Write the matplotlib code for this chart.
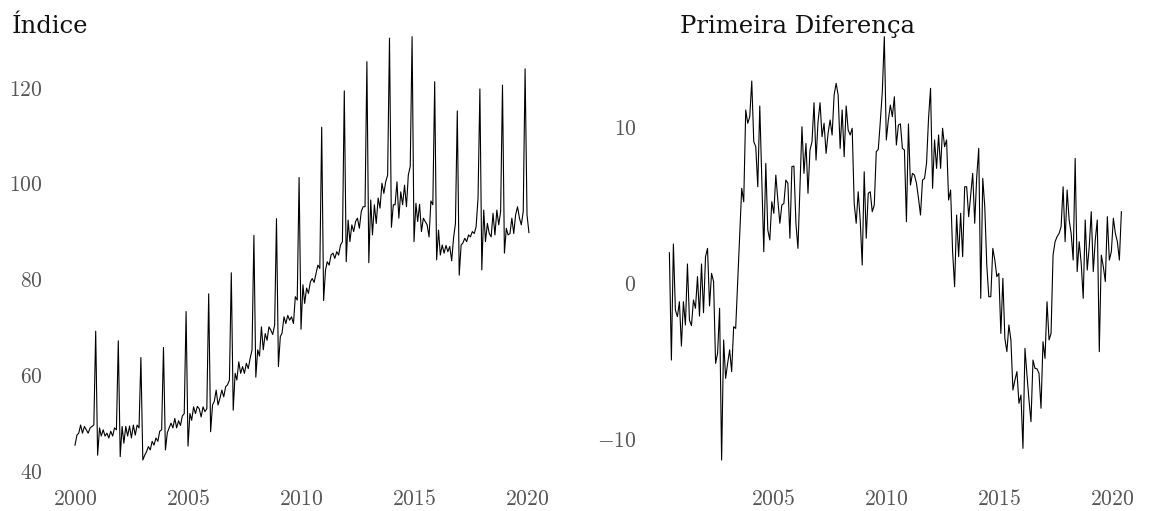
import numpy as np
import pandas as pd
import matplotlib
matplotlib.use("Agg")
import matplotlib.pyplot as plt

# ---- data -------------------------------------------------------------
# Monthly index, Jan 2000 - Feb 2020 (December peaks every year)
indice_2000 = [45.4, 47.5, 47.9, 49.6, 47.9, 49.3, 48.6, 47.9, 49.0, 49.3, 49.6, 69.2]
indice_2001 = [43.3, 49.0, 47.3, 48.6, 47.3, 47.9, 46.9, 48.3, 47.3, 49.0, 48.6, 67.2]
indice_2002 = [43.0, 49.3, 45.8, 49.3, 47.3, 49.4, 46.9, 49.6, 47.5, 49.6, 49.0, 63.7]
indice_2003 = [42.3, 43.3, 44.0, 45.1, 44.4, 46.2, 45.4, 46.9, 46.2, 48.3, 48.6, 65.8]
indice_2004 = [44.4, 48.0, 49.0, 50.0, 49.0, 51.0, 49.0, 50.5, 49.5, 51.5, 52.0, 73.3]
indice_2005 = [45.2, 52.0, 50.6, 53.4, 52.0, 53.5, 53.0, 51.3, 53.4, 52.4, 53.0, 77.0]
indice_2006 = [48.2, 53.8, 54.5, 56.9, 53.8, 55.2, 56.9, 55.5, 57.6, 58.0, 59.0, 81.4]
indice_2007 = [52.7, 60.4, 59.0, 62.8, 60.4, 61.8, 60.4, 62.5, 61.4, 63.5, 65.3, 89.2]
indice_2008 = [59.6, 65.3, 64.0, 70.1, 65.3, 68.7, 67.3, 70.1, 69.4, 68.5, 70.5, 92.7]
indice_2009 = [61.8, 68.1, 68.8, 72.2, 70.8, 72.5, 71.5, 72.2, 70.8, 76.4, 75.7, 101.3]
indice_2010 = [69.6, 78.9, 75.0, 78.2, 77.1, 79.5, 80.2, 79.4, 81.3, 83.0, 82.3, 111.8]
indice_2011 = [75.6, 82.0, 83.7, 83.0, 85.1, 85.5, 84.4, 85.8, 85.1, 87.2, 87.9, 119.4]
indice_2012 = [83.7, 92.4, 87.9, 91.4, 90.0, 92.1, 92.8, 90.7, 94.2, 95.2, 95.2, 125.5]
indice_2013 = [83.5, 96.6, 89.3, 95.6, 91.7, 97.0, 94.9, 100.1, 98.0, 100.4, 101.8, 130.4]
indice_2014 = [90.9, 95.6, 95.6, 100.4, 92.8, 98.3, 95.6, 99.7, 95.2, 101.8, 103.6, 130.7]
indice_2015 = [87.9, 95.9, 92.1, 95.7, 90.0, 92.8, 92.1, 91.4, 88.9, 96.4, 95.6, 121.3]
indice_2016 = [84.1, 90.3, 85.1, 87.2, 85.5, 87.1, 85.8, 86.9, 83.9, 88.6, 91.7, 115.2]
indice_2017 = [80.9, 87.2, 87.6, 88.6, 87.9, 89.3, 88.9, 90.0, 89.6, 91.0, 97.0, 119.8]
indice_2018 = [82.0, 94.5, 87.9, 91.7, 89.6, 88.9, 93.8, 89.3, 94.5, 91.4, 94.2, 120.6]
indice_2019 = [85.5, 90.7, 89.3, 89.6, 92.8, 89.6, 93.5, 95.2, 92.8, 91.4, 94.2, 124.0]
indice_2020 = [93.5, 89.8]

indice = (indice_2000 + indice_2001 + indice_2002 + indice_2003 + indice_2004 +
          indice_2005 + indice_2006 + indice_2007 + indice_2008 + indice_2009 +
          indice_2010 + indice_2011 + indice_2012 + indice_2013 + indice_2014 +
          indice_2015 + indice_2016 + indice_2017 + indice_2018 + indice_2019 +
          indice_2020)
indice_start = "2000-01-01"

# First difference series
diff_a = [1.94, -4.94, 2.5, -1.73, -2.16, -1.2, -4.04, -1.2, -2.69, 1.22, -2.37, -2.73,
          -1.09, -1.62, 0.41, -2.12, 1.22, -1.9, 1.69, 2.22, -1.47, 0.62, 0.09, -5.15,
          -4.51, -1.62, -11.35, -3.65, -6.11, -5.15, -4.29, -5.68, -2.8, -2.91, 0.09,
          3.08, 6.07, 5.21, 11.09, 10.24, 10.66, 12.95, 9.06, 8.74, 6.17, 11.35, 6.8,
          2.0, 7.67]
diff_b = [3.4, 2.76, 5.21, 4.47, 6.92, 5.32, 3.83, 5.0, 5.1, 6.6, 6.4, 2.87, 7.46, 7.5,
          3.83, 2.22, 6.17, 10.02, 7.03, 8.95, 5.75, 8.53, 9.06, 11.56, 7.88, 10.34,
          11.56, 9.38, 10.24, 8.31, 9.6, 10.45, 9.49, 12.05, 12.8, 12.05, 8.63, 11.09,
          8.1, 11.35, 9.81, 9.49, 9.92, 5.11, 3.83, 5.85, 4.04, 1.15, 7.13, 2.87, 5.75,
          5.85, 4.57, 5.0, 8.42, 8.57]
diff_c = [10.34, 12.26, 15.79, 9.17, 10.45, 11.41, 10.66, 11.94, 8.85, 10.13, 10.2, 8.63,
          8.53, 3.93, 10.2, 6.28, 7.03, 6.92, 6.39, 5.43, 4.36, 6.6, 6.7, 7.67, 10.56,
          12.48, 6.07, 9.17, 7.35, 9.49, 7.35, 9.92, 8.74, 9.17, 5.32, 5.96, 2.01, -0.24,
          4.36, 1.69, 4.47, 1.69, 6.17, 6.17, 4.25, 5.64, 7.03, 3.83, 6.81, 8.63, -0.98,
          6.71, 4.89, 1.15, -0.88]
diff_d = [-0.88, 2.22, 1.47, 0.41, 0.62, -3.23, 0.3, -3.55, -4.4, -2.69, -3.65, -6.86,
          -6.22, -5.68, -7.71, -7.18, -10.6, -4.19, -5.9, -7.5, -8.89, -4.94, -5.47,
          -5.5, -5.79, -8.03, -3.76, -4.83, -1.2, -3.65, -3.23, 1.79, 2.65, 2.97, 3.18,
          3.61, 6.17, 2.65, 5.96, 4.04, 3.18, 1.47, 7.99, 0.73, 2.65, 1.26, -0.98, 4.04,
          0.83, 2.33, 4.57, 0.73, 2.76, 4.04, -4.4, 1.79, 1.05, 0.09, 4.25, 1.47, 2.01,
          4.15, 3.18, 2.65, 1.47, 4.57]
diferenca = diff_a + diff_b + diff_c + diff_d
diferenca_start = "2000-06-01"
diferenca_end = "2020-06-01"

titles = ["Índice", "Primeira Diferença"]
left_xticks = [2000, 2005, 2010, 2015, 2020]
left_yticks = [40, 60, 80, 100, 120]
right_xticks = [2005, 2010, 2015, 2020]
right_yticks = [-10, 0, 10]


def decimal_year(dates):
    dates = pd.DatetimeIndex(dates)
    start = pd.to_datetime(dates.year.astype(str) + "-01-01")
    end = pd.to_datetime((dates.year + 1).astype(str) + "-01-01")
    return np.asarray(dates.year + (dates - start) / (end - start), dtype=float)


x_indice = decimal_year(pd.date_range(indice_start, periods=len(indice), freq="MS"))
x_diff = decimal_year(pd.date_range(diferenca_start, diferenca_end, periods=len(diferenca)))

# ---- style ------------------------------------------------------------
plt.rcParams["font.family"] = "serif"
plt.rcParams["font.serif"] = ["cmr10", "DejaVu Serif"]
plt.rcParams["mathtext.fontset"] = "cm"
plt.rcParams["axes.formatter.use_mathtext"] = True
plt.rcParams["axes.unicode_minus"] = True

W, H = 1149, 511
fig = plt.figure(figsize=(W / 100, H / 100), dpi=100)


def px_axes(left, right, top, bottom):
    return fig.add_axes([left / W, 1 - bottom / H, (right - left) / W, (bottom - top) / H])


ax1 = px_axes(48, 545, 30, 478)
ax2 = px_axes(642, 1135, 30, 478)

ax1.plot(x_indice, indice, color="black", lw=0.8)
ax2.plot(x_diff, diferenca, color="black", lw=0.8)

ax1.set_xlim(1998.805, 2020.796)
ax1.set_ylim(38.54, 132.1)
ax2.set_xlim(1999.204, 2021.018)
ax2.set_ylim(-12.5, 16.22)

ax1.set_xticks(left_xticks)
ax1.set_yticks(left_yticks)
ax2.set_xticks(right_xticks)
ax2.set_yticks(right_yticks)

for ax in (ax1, ax2):
    for s in ax.spines.values():
        s.set_visible(False)
    ax.tick_params(axis="both", length=0, labelsize=15.5, labelcolor="#555555")
    ax.tick_params(axis="x", pad=8)
    ax.tick_params(axis="y", pad=4)
    ax.set_facecolor("white")

fig.text(12 / W, 1 - 33 / H, titles[0], fontsize=17.5, family="DejaVu Serif",
         va="baseline", ha="left", color="#111111")
fig.text(680 / W, 1 - 33 / H, titles[1], fontsize=17.5, family="DejaVu Serif",
         va="baseline", ha="left", color="#111111")

fig.savefig("out.png", dpi=100, facecolor="white")
